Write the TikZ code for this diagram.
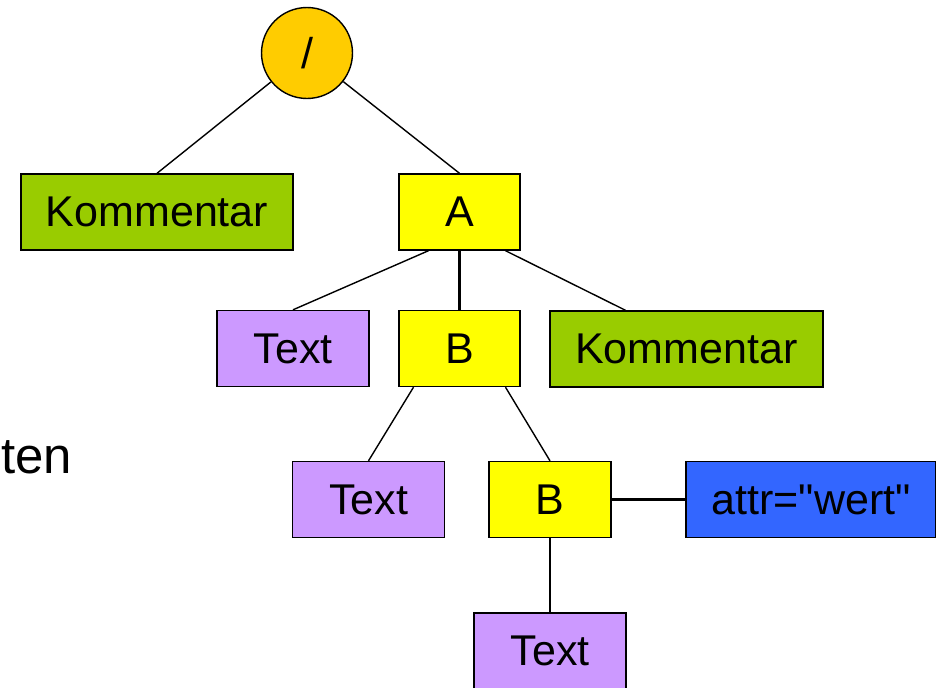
\documentclass[tikz,border=0pt]{standalone}
\usepackage{fontspec}
\setmainfont{Liberation Sans}[Ligatures=TeXOff]
\usetikzlibrary{arrows,shapes,positioning}
\definecolor{xmlgreen}{RGB}{153,204,0}
\definecolor{xmlyellow}{RGB}{255,255,0}
\definecolor{xmlviolet}{RGB}{204,153,255}
\definecolor{xmlblue}{RGB}{51,102,255}
\definecolor{xmlorange}{RGB}{255,204,0}
\tikzstyle{element} = [rectangle, minimum width=2.42cm, minimum height=1.52cm, text centered, draw=black, fill=xmlyellow, line width=0.8pt, inner sep=0pt]
\tikzstyle{comment} = [element, minimum width=5.44cm, fill=xmlgreen]
\tikzstyle{textnode} = [element, minimum width=3.04cm, fill=xmlviolet]
\tikzstyle{attribute} = [element, minimum width=5cm, fill=xmlblue]
\tikzstyle{rootnode} = [circle, minimum size=1.82cm, draw=black, fill=xmlorange, line width=0.8pt, inner sep=0pt]
\tikzstyle{edge} = [line width=0.8pt, black]
\tikzstyle{straightedge} = [edge, line width=1.3pt]

\begin{document}
\begin{tikzpicture}[x=0.02cm, y=-0.02cm, font=\fontsize{24.5}{29}\selectfont]
\useasboundingbox (0,0) rectangle (936,687);

% Document root
\node (root) [rootnode] at (307,53) {/};

% First level
\node (kom1) [comment] at (157,212) {Kommentar};
\node (a) [element] at (459.5,212) {A};

% Children of A
\node (t1) [textnode] at (293,348.5) {Text};
\node (b1) [element] at (459.5,348.5) {B};
\node (kom2) [comment, minimum width=5.46cm] at (686.5,349) {Kommentar};

% Children of B
\node (t2) [textnode] at (368.5,499.5) {Text};
\node (b2) [element, minimum width=2.44cm] at (550,499.5) {B};
\node (attr) [attribute] at (811,499.5) {attr="wert"};
\node (t3) [textnode] at (550,651) {Text};

% Cut-off text on the left
\node (cut) [anchor=base west, inner sep=0pt, font=\fontsize{29}{34}\selectfont] at (1,473) {ten};

% Edges
\draw[edge] (root) -- (kom1.north);
\draw[edge] (root) -- (a.north);
\draw[edge] ([xshift=-0.62cm]a.south) -- (t1.north);
\draw[straightedge] (a) -- (b1);
\draw[edge] ([xshift=0.92cm]a.south) -- ([xshift=-1.22cm]kom2.north);
\draw[edge] ([xshift=-0.92cm]b1.south) -- (t2.north);
\draw[edge] ([xshift=0.92cm]b1.south) -- (b2.north);
\draw[straightedge] (b2) -- (attr);
\draw[straightedge] (b2) -- (t3);
\end{tikzpicture}
\end{document}
